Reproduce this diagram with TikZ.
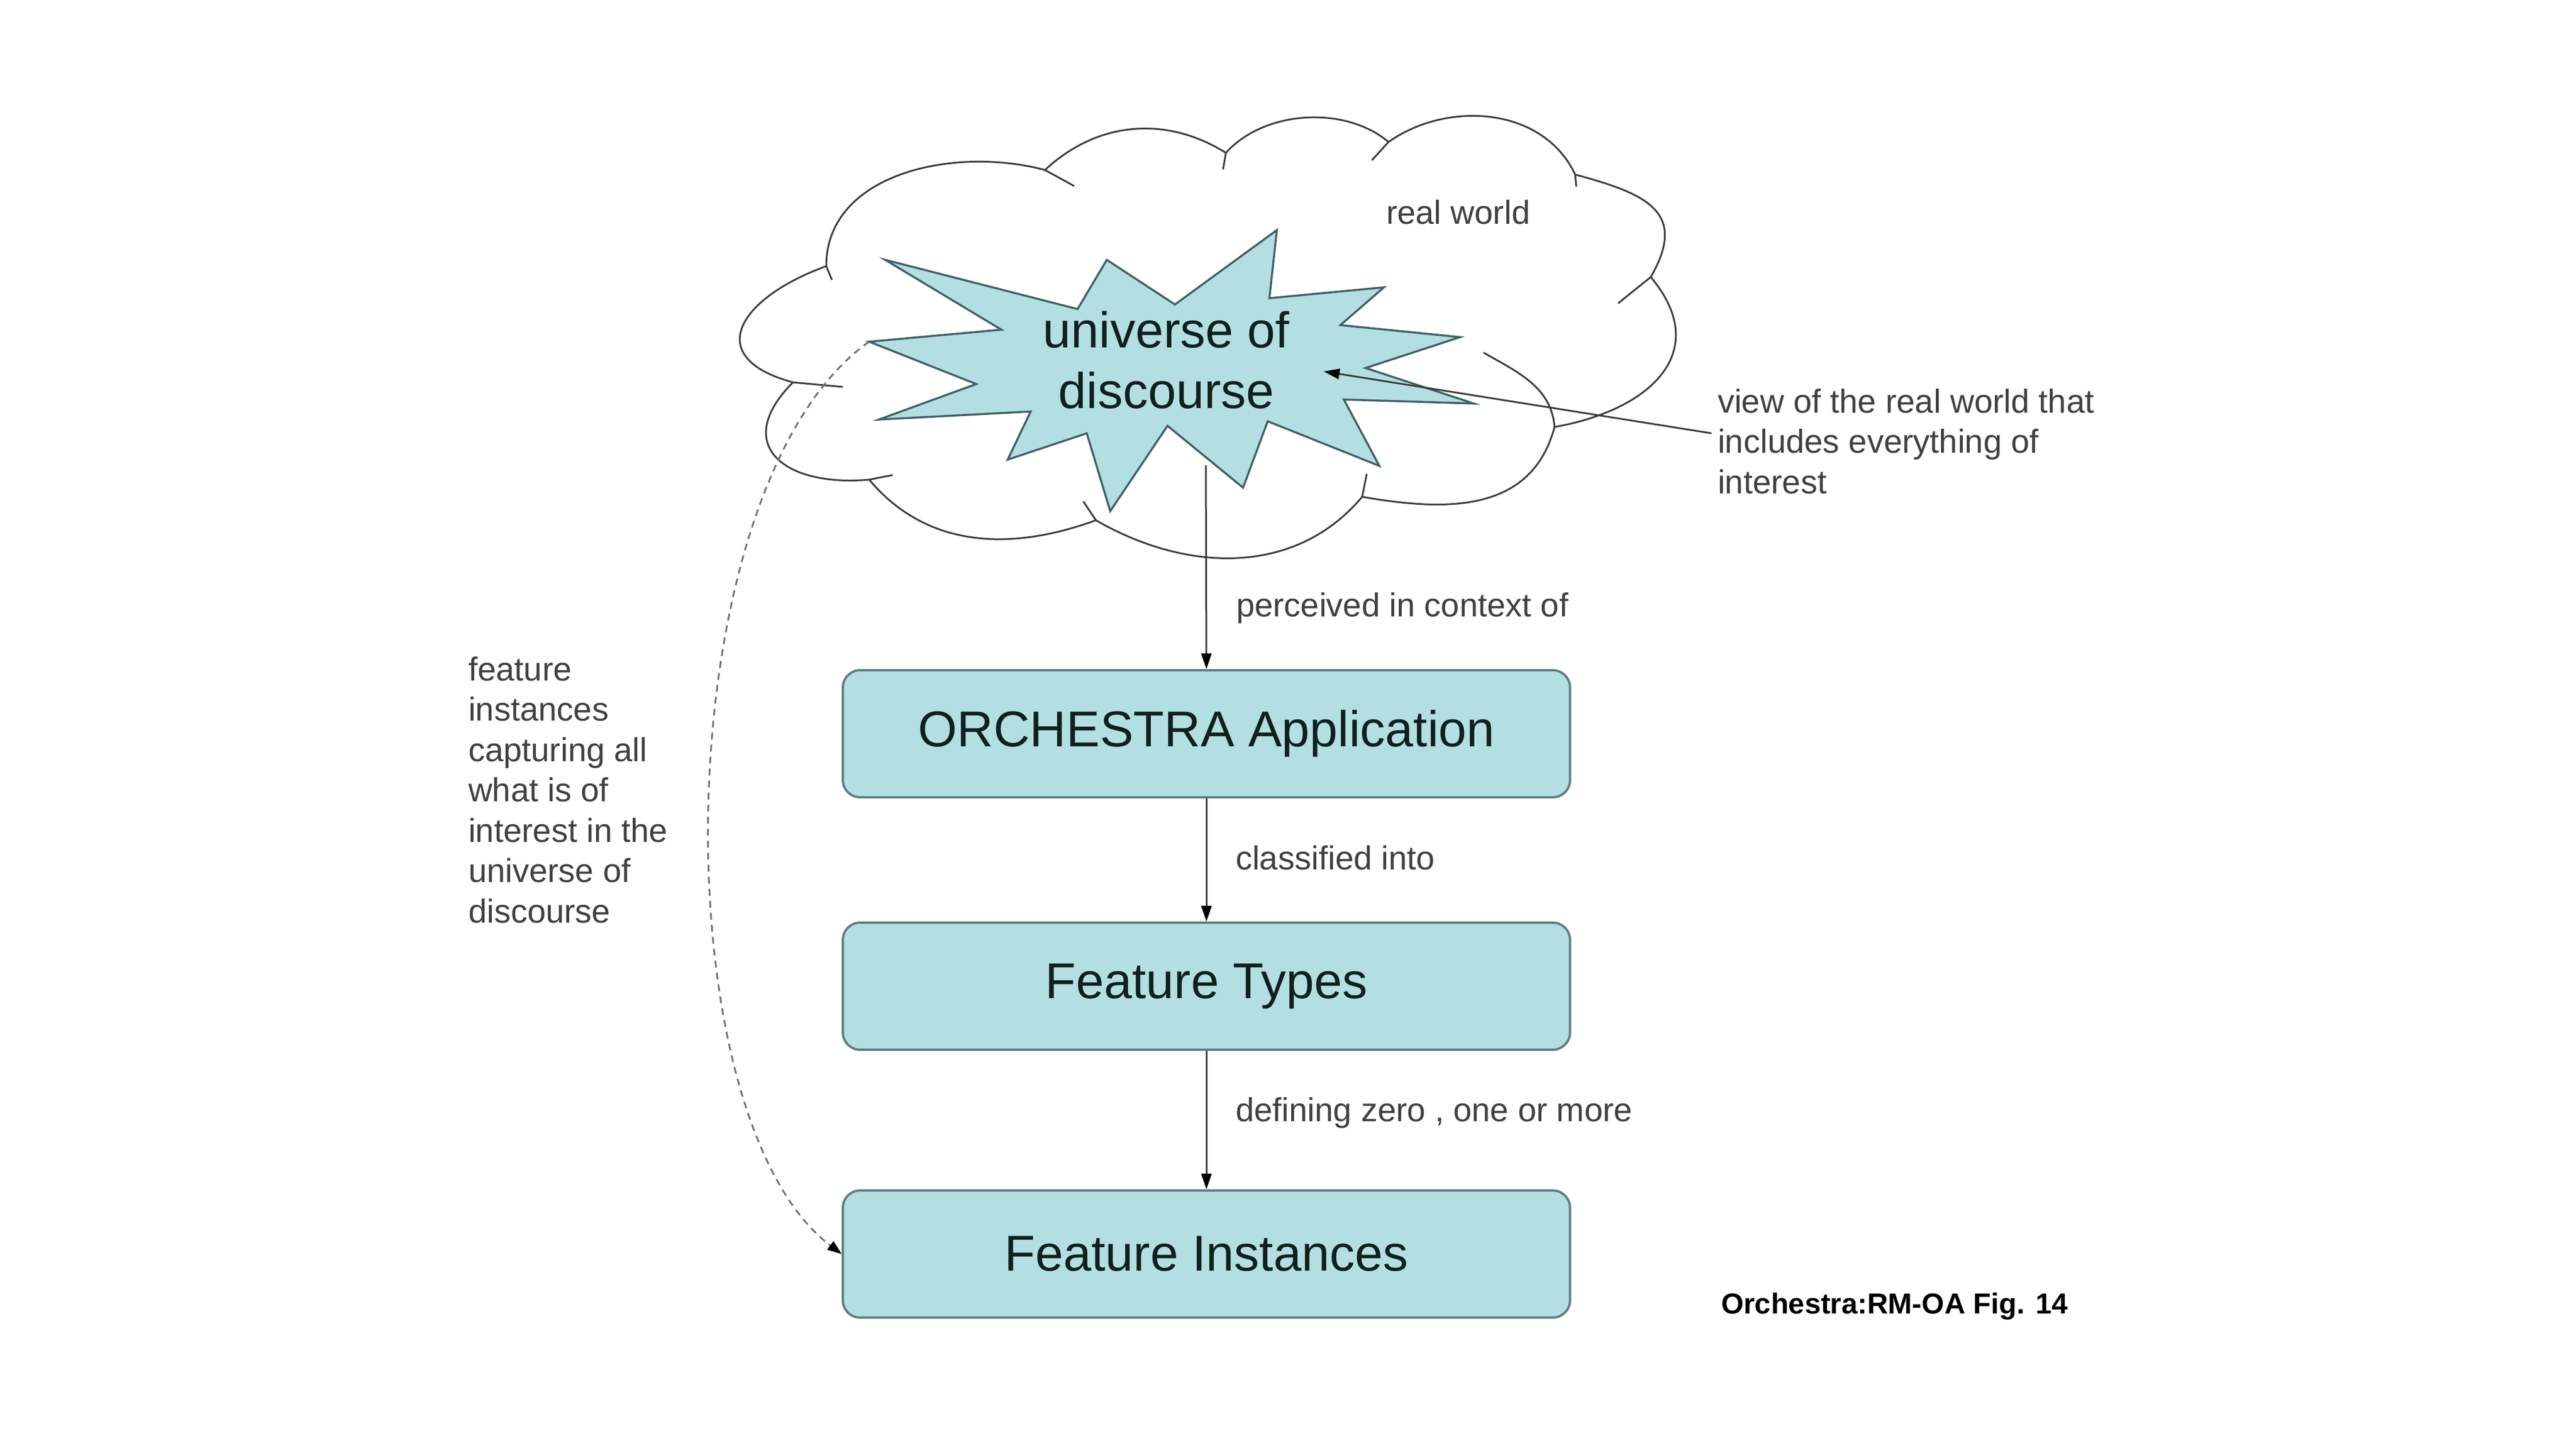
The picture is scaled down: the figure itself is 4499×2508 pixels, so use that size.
\documentclass[tikz,border=0pt]{standalone}
\usepackage{fontspec}
\setmainfont{Liberation Sans}
\usetikzlibrary{arrows.meta}
\definecolor{boxfill}{HTML}{B4DFE2}
\definecolor{boxline}{HTML}{5F7D80}
\definecolor{burstline}{HTML}{3F6064}
\definecolor{cloudgray}{HTML}{3A3A3A}
\definecolor{boxtext}{HTML}{10201F}
\definecolor{lblgray}{HTML}{404040}
\definecolor{dashgray}{HTML}{707070}
\begin{document}
\begin{tikzpicture}
  [x=0.2pt,y=0.2pt,
    box/.style={draw=boxline,fill=boxfill,rounded corners=6pt,line width=0.8pt,
      minimum width=254pt,minimum height=44.4pt,inner sep=0pt,
      font=\fontsize{17.6}{21.2}\selectfont,text=boxtext},
    burst/.style={draw=burstline,fill=boxfill,line width=0.7pt,line join=miter},
    cloudline/.style={draw=cloudgray,line width=0.6pt},
    lbl/.style={font=\fontsize{11.6}{14.1}\selectfont,text=lblgray,inner sep=0pt,align=left},
    arr/.style={draw=cloudgray,line width=0.6pt,-{Triangle[length=5.5pt,width=3.6pt,color=black]}},
    dasharr/.style={draw=dashgray,line width=0.6pt,dash pattern=on 2.4pt off 1.8pt,
      -{Triangle[length=5pt,width=3.6pt,color=black]}},
]

  \useasboundingbox (0,0) rectangle (4499,-2508);

  \draw[cloudline,fill=white] (1443,-465)
    to[out=90,in=165] (1825,-297)
    to[out=43,in=148] (2141,-267)
    to[out=48,in=140,looseness=0.9] (2425,-248)
    to[out=35,in=115] (2751,-305)
    to[out=-15,in=60,looseness=1.5] (2883,-484)
    to[out=-50,in=10,looseness=1.4] (2715,-746)
    to[out=-105,in=-10,looseness=1.1] (2379,-868)
    to[out=-130,in=-30] (1914,-909)
    to[out=-160,in=-50] (1518,-838)
    to[out=185,in=-135,looseness=1.8] (1385,-668)
    to[out=165,in=-160,looseness=2] (1443,-465) -- cycle;
  \draw[cloudline] (1443,-465) -- (1453,-489);
  \draw[cloudline] (1825,-297) -- (1876,-325);
  \draw[cloudline] (2141,-267) -- (2136,-296);
  \draw[cloudline] (2425,-248) -- (2396,-280);
  \draw[cloudline] (2751,-305) -- (2753,-326);
  \draw[cloudline] (2883,-484) -- (2826,-530);
  \draw[cloudline] (2715,-746) to[out=95,in=-30] (2591,-616);
  \draw[cloudline] (2379,-868) -- (2387,-828);
  \draw[cloudline] (1914,-909) -- (1892,-876);
  \draw[cloudline] (1518,-838) -- (1559,-830);
  \draw[cloudline] (1385,-668) -- (1472,-676);

  \draw[burst] (1546,-454) -- (1882,-540) -- (1933,-454) -- (2052,-532)
    -- (2230,-402) -- (2217,-521) -- (2417,-502) -- (2341,-568)
    -- (2550,-589) -- (2385,-643) -- (2574,-705) -- (2347,-698)
    -- (2409,-814) -- (2214,-736) -- (2171,-852) -- (2039,-744)
    -- (1939,-893) -- (1898,-757) -- (1760,-803) -- (1800,-719)
    -- (1535,-733) -- (1705,-671) -- (1518,-597) coordinate (uodtip)
    -- (1749,-576) -- cycle;

  \node[align=center,inner sep=0pt,font=\fontsize{17.6}{21.2}\selectfont,text=boxtext]
    (uod) at (2037,-629) {universe of\\discourse};
  \coordinate (uodbot) at (2106,-813);
  \coordinate (uodpt) at (2312,-649);

  \node[lbl,anchor=base west] (rw) at (2420,-391) {real world};
  \node[lbl,anchor=north west] (view) at (2999,-678)
    {view of the real world that\\includes everything of\\interest};
  \coordinate (viewend) at (2989,-757);

  \node[box] (orch) at (2107,-1282) {ORCHESTRA Application};
  \node[box] (ftyp) at (2107,-1723) {Feature Types};
  \node[box] (finst) at (2107,-2191) {Feature Instances};

  \node[lbl,anchor=base west] (perc) at (2158,-1077) {perceived in context of};
  \node[lbl,anchor=base west] (clas) at (2157,-1519) {classified into};
  \node[lbl,anchor=base west] (defz) at (2157,-1959) {defining zero , one or more};

  \node[lbl,anchor=north west] (fi) at (817,-1146)
    {feature\\instances\\capturing all\\what is of\\interest in the\\universe of\\discourse};

  \node[anchor=base west,inner sep=0pt,font=\fontsize{10.1}{12}\selectfont\bfseries]
    (fig) at (3005,-2295) {Orchestra:RM-OA Fig. 14};

  \draw[arr] (uodbot) -- (orch.north);
  \draw[arr] (orch.south) -- (ftyp.north);
  \draw[arr] (ftyp.south) -- (finst.north);
  \draw[arr] (viewend) -- (uodpt);
  \draw[dasharr] (uodtip) .. controls (1160,-850) and (1150,-1950) .. (finst.west);

\end{tikzpicture}
\end{document}
